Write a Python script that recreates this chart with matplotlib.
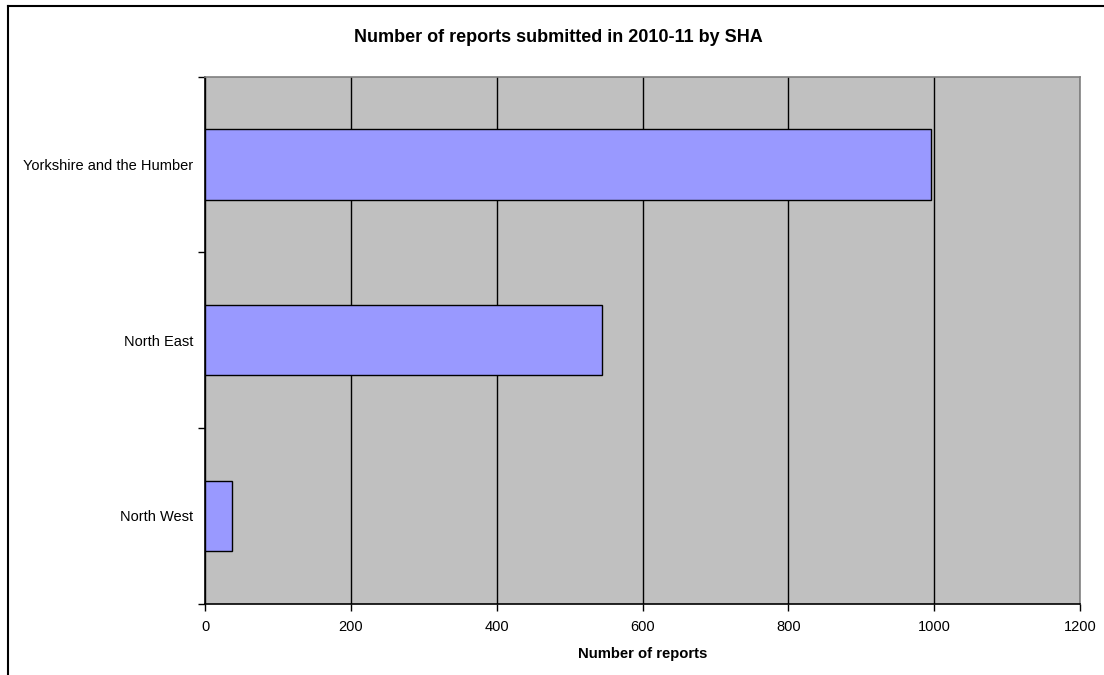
import matplotlib
matplotlib.use("Agg")
import matplotlib.pyplot as plt
from matplotlib.lines import Line2D

categories = ["North West", "North East", "Yorkshire and the Humber"]
reports = [37, 545, 996]
x_ticks = [0, 200, 400, 600, 800, 1000, 1200]

plt.rcParams['font.family'] = ['Liberation Sans', 'DejaVu Sans']

fig = plt.figure(figsize=(11.04, 6.75), dpi=100)
ax = fig.add_axes([205/1104, 1-603.7/675, (1080-205)/1104, (603.7-76.7)/675])
ax.set_facecolor('#C0C0C0')

ypos = list(range(len(categories)))
ax.barh(ypos, reports, height=0.4, color='#9999FF', edgecolor='black', linewidth=1, zorder=3)

ax.set_xlim(0, 1200)
ax.set_ylim(-0.5, len(categories) - 0.5)
ax.set_xticks(x_ticks)
ax.set_xticklabels([str(t) for t in x_ticks], fontsize=10.5)
ax.set_yticks(ypos)
ax.set_yticklabels(categories, fontsize=10.5)
ax.tick_params(axis='y', which='major', length=0, pad=8.5)
ax.set_yticks([i - 0.5 for i in range(len(categories) + 1)], minor=True)
ax.tick_params(axis='y', which='minor', length=5, width=1, color='black', direction='out')
ax.tick_params(axis='x', which='major', length=5, width=1, color='black', direction='out', pad=7)
ax.grid(axis='x', color='black', linewidth=1, zorder=1)
ax.set_axisbelow(True)

for s in ['top', 'right']:
    ax.spines[s].set_color('#808080')
    ax.spines[s].set_linewidth(1.2)
for s in ['left', 'bottom']:
    ax.spines[s].set_color('black')
    ax.spines[s].set_linewidth(1.2)

ax.set_xlabel('Number of reports', fontsize=10.75, fontweight='bold', labelpad=9)
fig.text(558/1104, 1-38/675, 'Number of reports submitted in 2010-11 by SHA',
         fontsize=13, fontweight='bold', ha='center', va='center')

# outer frame (extends beyond the image on right and bottom)
fig.add_artist(Line2D([8/1104, 1.0], [1-6/675, 1-6/675], color='black', linewidth=1.5, transform=fig.transFigure))
fig.add_artist(Line2D([8/1104, 8/1104], [1-6/675, 0.0], color='black', linewidth=1.5, transform=fig.transFigure))

fig.savefig('out.png', dpi=100)
